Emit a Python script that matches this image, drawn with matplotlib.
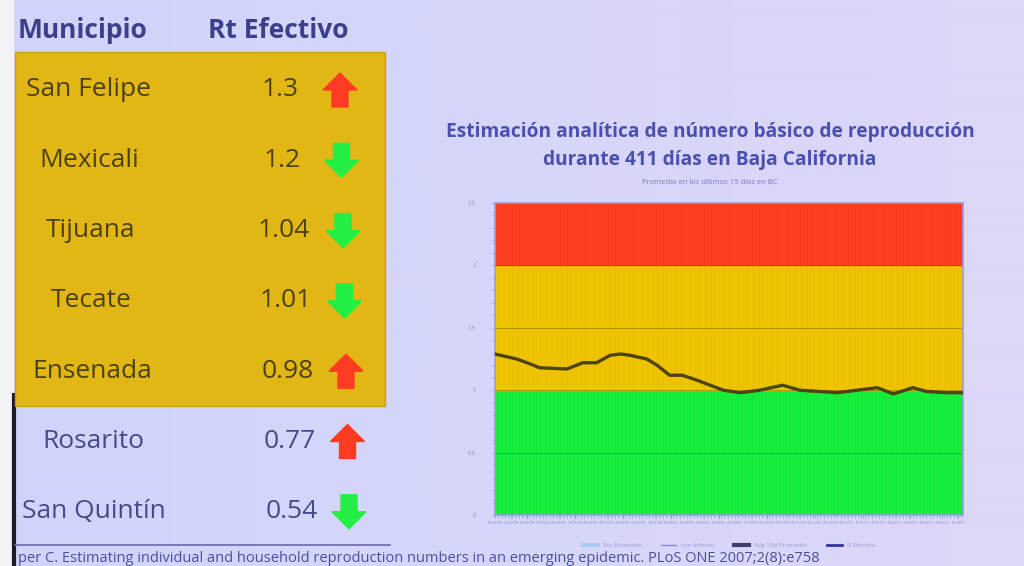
import matplotlib
matplotlib.use("Agg")
import matplotlib.pyplot as plt
import numpy as np
import pandas as pd
from matplotlib.lines import Line2D
from matplotlib.patches import Rectangle, FancyArrow
from matplotlib.colors import LinearSegmentedColormap

# ---------------- data ----------------
municipios = ["San Felipe", "Mexicali", "Tijuana", "Tecate", "Ensenada", "Rosarito", "San Quintín"]
rt_labels = ["1.3", "1.2", "1.04", "1.01", "0.98", "0.77", "0.54"]
tendencia = ["up", "down", "down", "down", "up", "up", "down"]
resaltado = [True, True, True, True, True, False, False]

dias = [0, 19, 31, 39, 63, 77, 89, 101, 110, 118, 133, 142, 153, 164, 177,
        200, 215, 232, 252, 267, 300, 326, 335, 349, 366, 378, 396, 410]
rt_bc = [1.29, 1.25, 1.21, 1.18, 1.17, 1.22, 1.22, 1.28, 1.29, 1.28, 1.25, 1.20, 1.12, 1.12, 1.08,
         1.00, 0.98, 1.00, 1.04, 1.00, 0.98, 1.01, 1.02, 0.97, 1.02, 0.99, 0.98, 0.98]
zonas_lim = [0, 1, 2, 2.5]
zonas_col = ["#14ef3c", "#f0c400", "#ff3d20"]
y_ticks = [0, 0.5, 1, 1.5, 2, 2.5]
n_dias = 411
fecha_inicio = "2020-03-01"

titulo = "Estimación analítica de número básico de reproducción\ndurante 411 días en Baja California"
subtitulo = "Promedio en los últimos 15 días en BC"
leyenda = ["Rsc Estimado", "Lim Inferior", "Avg 15d Promedio", "R Efectivo"]
cita = "per C. Estimating individual and household reproduction numbers in an emerging epidemic. PLoS ONE 2007;2(8):e758"

FONT = ["Open Sans", "DejaVu Sans"]
plt.rcParams["font.family"] = FONT

W, H = 1024, 566
fig = plt.figure(figsize=(W / 100, H / 100), dpi=100)

# ---------------- background / table ----------------
bg = fig.add_axes([0, 0, 1, 1])
bg.set_xlim(0, W)
bg.set_ylim(H, 0)
bg.axis("off")
grad = np.linspace(0, 1, 1024)[None, :]
cm = LinearSegmentedColormap.from_list("bgc", ["#d0d4fa", "#d6d6fa", "#ddd6f7"])
bg.imshow(grad, extent=[0, W, H, 0], aspect="auto", cmap=cm, zorder=0, interpolation="bilinear")
bg.add_patch(Rectangle((0, 0), 13, H, color="#f3f3f7", zorder=1))
bg.plot([14, 14], [395, H], color="#1a1a2a", lw=3, zorder=2)

# headers
hdr_col = "#3b3f8c"
bg.text(82, 30, "Municipio", ha="center", va="center", fontsize=19, fontweight="bold", color=hdr_col, zorder=3)
bg.text(278, 30, "Rt Efectivo", ha="center", va="center", fontsize=19, fontweight="bold", color=hdr_col, zorder=3)

row0, dy = 90, 70.3
n_hl = sum(resaltado)
bg.add_patch(Rectangle((15, 52), 370, row0 + dy * (n_hl - 1) + 35 - 52,
                       facecolor="#e2b614", edgecolor="#c9a010", lw=1, zorder=2))
bg.plot([15, 390], [545, 545], color="#6a6aa8", lw=1.2, zorder=2)

for i, (m, v, t, h) in enumerate(zip(municipios, rt_labels, tendencia, resaltado)):
    y = row0 + i * dy
    col = "#4a4216" if h else "#454a88"
    bg.text(88 + i, y, m, ha="center", va="center", fontsize=19, color=col, zorder=3)
    bg.text(280 + 2 * i, y, v, ha="center", va="center", fontsize=19, color=col, zorder=3)
    ax_x = 340 + 1.5 * i
    if t == "up":
        arr = FancyArrow(ax_x, y + 17, 0, -34, width=16, head_width=34, head_length=17,
                         length_includes_head=True, color="#ff3b22", zorder=3)
    else:
        arr = FancyArrow(ax_x, y - 17, 0, 34, width=16, head_width=34, head_length=17,
                         length_includes_head=True, color="#22ee44", zorder=3)
    bg.add_patch(arr)

bg.text(18, 566, cita, ha="left", va="bottom", fontsize=10.5, color="#4a50a0", zorder=3)

# chart titles
bg.text(710, 146, titulo, ha="center", va="center", fontsize=13.8, fontweight="bold",
        color="#4a4fb0", linespacing=1.5, zorder=3)
bg.text(710, 182, subtitulo, ha="center", va="center", fontsize=5.5, color="#7a7ac8", zorder=3)

# ---------------- chart ----------------
ax = fig.add_axes([495 / W, 1 - 515 / H, 468 / W, (515 - 203) / H])
ax.set_xlim(0, n_dias - 1)
ax.set_ylim(zonas_lim[0], zonas_lim[-1])
for lo, hi, c in zip(zonas_lim[:-1], zonas_lim[1:], zonas_col):
    ax.axhspan(lo, hi, color=c, zorder=0)

ax.set_xticks(np.arange(0, n_dias, 3), minor=True)
ax.grid(which="minor", axis="x", color="#6a5a20", alpha=0.09, lw=0.5)
ax.set_yticks(y_ticks)
ax.grid(which="major", axis="y", color="#5a4a10", alpha=0.4, lw=0.7)
ax.set_yticks(np.arange(0, 2.55, 0.1), minor=True)

ax.plot(dias, rt_bc, color="#4e4410", lw=2.4, zorder=3, solid_capstyle="round")

fechas = pd.date_range(fecha_inicio, periods=n_dias, freq="D")
xt = np.arange(0, n_dias, 14)
ax.set_xticks(xt)
ax.set_xticklabels([fechas[i].strftime("%d/%m/%y") for i in xt], fontsize=2.6, color="#8080c0")
ax.set_yticklabels([("%g" % v) for v in y_ticks], fontsize=4, color="#8a8ac0")
ax.tick_params(axis="both", which="both", colors="#8a8ad8", length=2, width=0.5, labelcolor="#8a8ac0", pad=2)
ax.tick_params(axis="y", which="major", pad=12)
for s in ax.spines.values():
    s.set_color("#9a9ae8")
    s.set_linewidth(1.2)

handles = [Line2D([], [], color="#a8ccf2", lw=3),
           Line2D([], [], color="#8a8acc", lw=1),
           Line2D([], [], color="#3e3e70", lw=3),
           Line2D([], [], color="#3434a0", lw=2)]
leg = ax.legend(handles, leyenda, loc="upper center", bbox_to_anchor=(0.5, -0.07), ncol=4,
                frameon=False, fontsize=4.5, handlelength=2.5, columnspacing=3)
for t in leg.get_texts():
    t.set_color("#9a9ad0")

fig.savefig("out.png", dpi=100)
